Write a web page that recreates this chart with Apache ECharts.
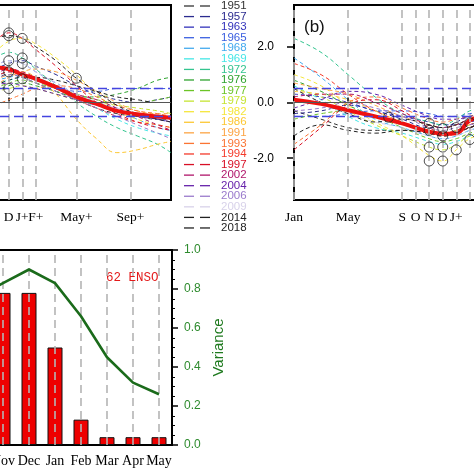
<!DOCTYPE html>
<html><head><meta charset="utf-8">
<script src="https://cdn.jsdelivr.net/npm/echarts@6/dist/echarts.min.js"></script>
<style>html,body{margin:0;padding:0;background:#fff}#c{width:474px;height:474px}</style>
</head><body><div id="c"></div>
<script>
// ---------- DATA ----------
const years = ['1951','1957','1963','1965','1968','1969','1972','1976','1977','1979','1982','1986','1991','1993','1994','1997','2002','2004','2006','2009','2014','2018'];
const yearColors = ['#333333','#2b2b8f','#3333bb','#3a5fe0','#44aaee','#44e6e6','#33c48f','#2fa32f','#6cc426','#c6e433','#f5e63c','#fcc733','#fca444','#fb7433','#f43a2a','#d80f25','#b0166a','#6622aa','#9a7acc','#d8d2ea','#222222','#222222'];

// panel (a): months since Jan of year 0 (D=11, J+=12 ...)
const monthsA = [10, 11, 12, 13, 14.5, 16, 17.5, 19, 20.5, 22, 23];
const anomA = [
  [0.9, 1.0, 0.9, 0.7, 0.4, 0.1, -0.2, -0.4, -0.5, -0.6, -0.6],
  [1.2, 1.4, 1.5, 1.3, 1.0, 0.6, 0.3, 0.1, 0.0, 0.1, 0.2],
  [0.9, 1.1, 1.0, 0.8, 0.5, 0.2, 0.0, -0.2, -0.4, -0.6, -0.7],
  [1.3, 1.5, 1.4, 1.1, 0.7, 0.4, 0.4, 0.5, 0.5, 0.5, 0.5],
  [0.8, 0.9, 1.0, 0.9, 0.6, 0.3, 0.0, -0.3, -0.6, -0.9, -1.0],
  [0.7, 0.8, 0.9, 0.8, 0.5, 0.2, -0.2, -0.6, -0.9, -1.1, -1.2],
  [1.6, 1.8, 1.6, 1.2, 0.6, 0.0, -0.5, -0.9, -1.2, -1.5, -1.8],
  [0.4, 0.6, 0.7, 0.6, 0.4, 0.2, 0.2, 0.3, 0.5, 0.8, 0.9],
  [0.5, 0.7, 0.8, 0.7, 0.5, 0.3, 0.1, 0.0, 0.0, 0.1, 0.2],
  [0.4, 0.5, 0.6, 0.5, 0.3, 0.1, 0.0, -0.1, -0.2, -0.3, -0.4],
  [1.8, 2.2, 2.3, 2.1, 1.6, 1.0, 0.3, -0.3, -0.6, -0.8, -0.9],
  [0.8, 1.0, 1.1, 0.9, 0.3, -0.6, -1.3, -1.8, -1.7, -1.5, -1.4],
  [0.6, 0.9, 1.1, 1.2, 1.1, 0.8, 0.4, 0.0, -0.3, -0.4, -0.4],
  [-0.1, 0.1, 0.3, 0.5, 0.6, 0.5, 0.2, -0.1, -0.3, -0.4, -0.5],
  [0.9, 1.1, 1.0, 0.8, 0.5, 0.1, -0.2, -0.5, -0.7, -0.8, -0.9],
  [2.2, 2.5, 2.3, 1.9, 1.3, 0.6, 0.0, -0.4, -0.7, -0.9, -1.0],
  [1.0, 1.2, 1.1, 0.9, 0.6, 0.3, 0.1, -0.2, -0.5, -0.8, -1.0],
  [0.6, 0.7, 0.6, 0.5, 0.3, 0.1, -0.1, -0.3, -0.5, -0.6, -0.7],
  [0.8, 1.0, 0.9, 0.7, 0.4, 0.1, -0.2, -0.5, -0.8, -1.1, -1.3],
  [1.3, 1.5, 1.4, 1.1, 0.7, 0.3, 0.0, -0.2, -0.4, -0.5, -0.6],
  [2.3, 2.4, 2.3, 2.0, 1.5, 0.87, 0.4, -0.1, -0.4, -0.6, -0.7],
  [0.6, 0.8, 0.9, 0.9, 0.8, 0.6, 0.4, 0.2, 0.1, 0.0, 0.0]
];
const meanA = [1.25, 1.2, 1.0, 0.85, 0.55, 0.2, -0.05, -0.3, -0.42, -0.5, -0.55];
const peaksA = [[11, 2.5], [11, 2.4], [12, 2.3], [11, 1.5], [12, 1.6], [12, 1.4], [11, 1.1], [12, 0.85], [11, 0.5], [16, 0.87]];
const ticksA = [11, 12, 13, 16, 20];
const tickLabelsA = ['D', 'J+', 'F+', 'May+', 'Sep+'];

// panel (b)
const monthsB = [0, 2, 4, 6, 8, 10, 11, 12, 13, 15];
const anomB = [
  [-0.3, -0.6, -0.9, -1.0, -1.0, -1.1, -1.2, -1.1, -0.9, -0.6],
  [-0.4, -0.3, -0.1, -0.3, -0.6, -0.9, -0.9, -0.7, -0.5, -0.3],
  [0.3, 0.2, 0.0, -0.3, -0.5, -0.7, -0.8, -0.8, -0.7, -0.5],
  [-0.5, -0.5, -0.4, -0.3, -0.3, -0.4, -0.5, -0.5, -0.4, -0.3],
  [1.6, 0.9, 0.1, -0.6, -0.9, -1.2, -1.3, -1.2, -1.0, -0.7],
  [0.6, 0.1, -0.5, -0.9, -1.1, -1.4, -1.5, -1.4, -1.2, -0.9],
  [2.3, 1.8, 1.0, 0.2, -0.4, -0.7, -0.8, -0.6, -0.3, 0.0],
  [0.8, 0.4, -0.1, -0.5, -0.8, -1.0, -1.1, -1.0, -0.8, -0.5],
  [-0.6, -0.4, -0.3, -0.5, -0.9, -1.3, -1.4, -1.3, -1.1, -0.8],
  [0.5, 0.2, -0.3, -0.8, -1.2, -1.6, -1.7, -1.5, -1.2, -0.9],
  [1.0, 0.6, -0.1, -0.7, -1.2, -1.9, -2.1, -1.7, -1.3, -0.9],
  [0.4, 0.3, 0.1, -0.3, -0.7, -1.0, -1.1, -1.0, -0.8, -0.6],
  [0.7, 0.5, 0.3, -0.1, -0.5, -0.8, -0.9, -0.8, -0.6, -0.4],
  [-1.5, -0.8, 0.0, 0.2, -0.2, -0.6, -0.7, -0.6, -0.5, -0.3],
  [1.4, 1.0, 0.3, -0.3, -0.7, -1.1, -1.2, -1.1, -0.9, -0.6],
  [-1.7, -0.9, -0.1, 0.1, -0.3, -0.9, -1.1, -1.0, -0.8, -0.5],
  [0.2, 0.3, 0.3, 0.0, -0.4, -0.8, -0.9, -0.8, -0.6, -0.4],
  [-0.2, 0.1, 0.4, 0.3, -0.1, -0.5, -0.6, -0.6, -0.5, -0.4],
  [-0.3, -0.2, 0.0, -0.2, -0.5, -0.9, -1.0, -0.9, -0.8, -0.6],
  [0.1, -0.1, -0.4, -0.7, -0.9, -1.2, -1.3, -1.2, -1.0, -0.7],
  [-1.2, -0.8, -1.0, -1.1, -1.0, -1.1, -1.2, -1.1, -0.9, -0.6],
  [0.5, 0.0, -0.4, -0.7, -0.6, -0.8, -0.9, -0.8, -0.6, -0.4]
];
const meanB = [0.1, -0.05, -0.28, -0.5, -0.75, -1.05, -1.12, -1.1, -0.65, -0.3];
const peaksB = [[7, -0.53], [10, -0.75], [10, -1.0], [10, -1.6], [10, -2.1], [11, -0.93], [11, -1.2], [11, -1.6], [11, -2.1], [12, -0.9], [12, -1.7], [13, -0.73], [13, -1.33]];
const ticksB = [0, 4, 8, 9, 10, 11, 12, 13];
const tickLabelsB = ['Jan', 'May', 'S', 'O', 'N', 'D', 'J+', 'F+'];
const yTicksB = [-2, 0, 2];

// panel (c)
const barCats = ['Jun', 'Jul', 'Aug', 'Sep', 'Oct', 'Nov', 'Dec', 'Jan', 'Feb', 'Mar', 'Apr', 'May'];
const barVals = [null, null, null, null, null, 0.78, 0.78, 0.50, 0.13, 0.04, 0.04, 0.04];
const varVals = [null, null, null, null, 0.76, 0.83, 0.90, 0.83, 0.66, 0.45, 0.32, 0.26];
const ensoText = '62 ENSO';

// ---------- CHART ----------
const chart = echarts.init(document.getElementById('c'), null, {renderer: 'canvas'});
const serif = 'Liberation Serif';
const sans = 'Liberation Sans';
const dash = [4, 3];
const greyDash = {color: '#b4b4b4', width: 1.6, type: [8, 5]};
const refLines = [
  {yAxis: 0, lineStyle: {color: '#555', width: 1, type: 'solid'}},
  {yAxis: 0.5, lineStyle: {color: '#4444e0', width: 1.3, type: [9, 5]}},
  {yAxis: -0.5, lineStyle: {color: '#4444e0', width: 1.3, type: [9, 5]}}
];

const series = [];
function panelSeries(xi, months, anom, mean, peaks, ticks) {
  series.push({
    type: 'line', xAxisIndex: xi, yAxisIndex: xi === 0 ? 0 : 1, data: [], z: 1, silent: true,
    markLine: {silent: true, symbol: ['none', 'none'], label: {show: false},
      data: ticks.map(m => ({xAxis: m, lineStyle: greyDash})).concat(refLines)}
  });
  anom.forEach((row, i) => {
    series.push({
      type: 'line', xAxisIndex: xi, yAxisIndex: xi === 0 ? 0 : 1, smooth: 0.45, symbol: 'none', z: 2, silent: true,
      data: months.map((m, j) => [m, row[j]]),
      lineStyle: {color: yearColors[i], width: 1, type: dash}
    });
  });
  series.push({
    type: 'line', xAxisIndex: xi, yAxisIndex: xi === 0 ? 0 : 1, smooth: 0.45, symbol: 'none', z: 4, silent: true,
    data: months.map((m, j) => [m, mean[j]]),
    lineStyle: {color: '#ee1111', width: 4}
  });
  series.push({
    type: 'scatter', xAxisIndex: xi, yAxisIndex: xi === 0 ? 0 : 1, z: 5, silent: true,
    data: peaks, symbol: 'circle', symbolSize: 10,
    itemStyle: {color: 'rgba(0,0,0,0)', borderColor: '#222', borderWidth: 1}
  });
}
panelSeries(0, monthsA, anomA, meanA, peaksA, ticksA);
panelSeries(1, monthsB, anomB, meanB, peaksB, ticksB);

series.push({
  type: 'bar', xAxisIndex: 2, yAxisIndex: 3, data: barVals, barWidth: 15, z: 2, silent: true,
  itemStyle: {color: '#ee0000', borderColor: '#111', borderWidth: 1}
});
series.push({
  type: 'line', xAxisIndex: 2, yAxisIndex: 3, data: [], z: 3, silent: true,
  markLine: {silent: true, symbol: ['none', 'none'], label: {show: false},
    data: barCats.map(c => ({xAxis: c, lineStyle: greyDash}))}
});
series.push({
  type: 'line', xAxisIndex: 2, yAxisIndex: 3, data: varVals, z: 6, silent: true, symbol: 'none',
  lineStyle: {color: '#1b6b1b', width: 2.6}
});

const legendEls = [];
years.forEach((y, i) => {
  const yy = 6 + 10.57 * i;
  legendEls.push({type: 'line', shape: {x1: 184, y1: yy, x2: 194, y2: yy}, style: {stroke: yearColors[i], lineWidth: 1.3}});
  legendEls.push({type: 'line', shape: {x1: 200, y1: yy, x2: 210, y2: yy}, style: {stroke: yearColors[i], lineWidth: 1.3}});
  legendEls.push({type: 'text', x: 221, y: yy, style: {text: y, fill: yearColors[i], font: '11.5px ' + sans, verticalAlign: 'middle'}});
});
legendEls.push({type: 'text', x: 304, y: 27, style: {text: '(b)', fill: '#111', font: '17px ' + sans, verticalAlign: 'middle'}});
legendEls.push({type: 'text', x: 106, y: 278, style: {text: ensoText, fill: '#e31a1a', font: '12.5px "Liberation Mono"', verticalAlign: 'middle'}});

function monthAxis(gi, ticks, labels) {
  return {
    type: 'value', gridIndex: gi, min: 0, max: 23, interval: 1,
    axisLine: {show: false}, splitLine: {show: false},
    axisTick: {show: true, inside: true, length: 5, customValues: ticks, lineStyle: {color: '#000', width: 1.5}},
    axisLabel: {customValues: ticks, margin: 10, color: '#000', fontFamily: serif, fontSize: 13.5, hideOverlap: false,
      formatter: v => { const k = ticks.indexOf(v); return k >= 0 ? labels[k] : ''; }}
  };
}
const gridBase = {show: true, borderColor: '#000', borderWidth: 2, backgroundColor: 'transparent', outerBoundsMode: 'none', containLabel: false};

chart.setOption({
  animation: false,
  backgroundColor: '#fff',
  grid: [
    Object.assign({left: -140, top: 5, width: 311, height: 195}, gridBase),
    Object.assign({left: 294, top: 5, width: 311, height: 195}, gridBase),
    Object.assign({left: -140, top: 250, width: 312, height: 195}, gridBase)
  ],
  xAxis: [
    monthAxis(0, ticksA, tickLabelsA),
    monthAxis(1, ticksB, tickLabelsB),
    {type: 'category', gridIndex: 2, data: barCats, axisTick: {show: false},
      axisLine: {lineStyle: {color: '#000', width: 2}},
      axisLabel: {color: '#000', fontFamily: serif, fontSize: 14, margin: 9, interval: 0}}
  ],
  yAxis: [
    {type: 'value', gridIndex: 0, min: -3.5, max: 3.5, interval: 0.5, show: false},
    {type: 'value', gridIndex: 1, min: -3.5, max: 3.5, interval: 0.5,
      axisLine: {show: false}, splitLine: {show: false},
      axisTick: {show: true, customValues: yTicksB, length: 7, lineStyle: {color: '#000', width: 1.5}},
      axisLabel: {customValues: yTicksB, margin: 20, color: '#000', fontFamily: sans, fontSize: 12, formatter: v => v.toFixed(1)}},
    {type: 'value', gridIndex: 1, min: -3.5, max: 3.5, interval: 0.5,
      axisLine: {show: false}, splitLine: {show: false}, axisLabel: {show: false},
      axisTick: {show: true, inside: true, length: 4, lineStyle: {color: '#000', width: 1}}},
    {type: 'value', gridIndex: 2, position: 'right', min: 0, max: 1, interval: 0.2,
      axisLine: {show: true, lineStyle: {color: '#000', width: 2}},
      splitLine: {show: false},
      axisTick: {show: true, length: 6, lineStyle: {color: '#000', width: 1.5}},
      minorTick: {show: true, splitNumber: 4, length: 3, lineStyle: {color: '#000', width: 1}},
      axisLabel: {color: '#2e8b2e', fontFamily: sans, fontSize: 12, margin: 12, formatter: v => v.toFixed(1)},
      name: 'Variance', nameLocation: 'middle', nameRotate: 90, nameGap: 38,
      nameTextStyle: {color: '#1f7a1f', fontFamily: sans, fontSize: 15}}
  ],
  series: series,
  graphic: legendEls
});
</script></body></html>
